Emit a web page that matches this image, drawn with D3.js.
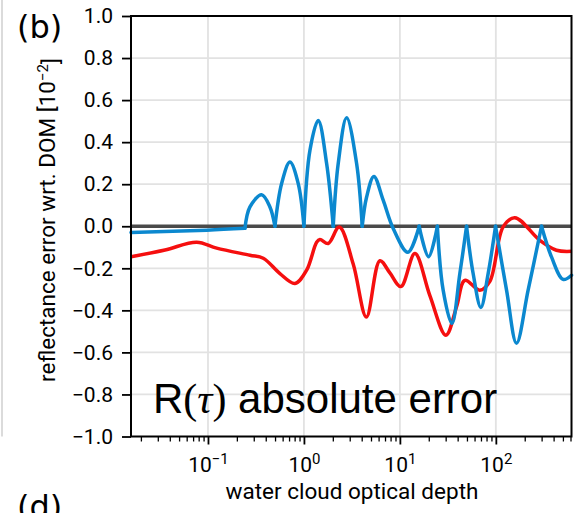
<!DOCTYPE html>
<html lang="en">
  <head>
    <meta charset="utf-8">
    <title>R(tau) absolute error</title>
    <script src="https://d3js.org/d3.v7.min.js"></script>
    <style>
      body { margin: 0; background: #fff; }
      .lab { font-family: "Roboto", sans-serif; }
    </style>
  </head>
  <body>
    <script type="text/javascript">

      var w = 577;
      var h = 513;
      var margin = {top: 16, right: 5, bottom: 76, left: 131};

      // water cloud optical depth (x) and error values
      var redX = [0.01577, 0.03565, 0.0762, 0.1232, 0.2738, 0.3767, 0.5623, 0.8058, 1.067, 1.356,
                  1.468, 1.791, 2.332, 3.263, 4.478, 6.190, 7.867, 10.24, 14.33, 20.54,
                  30.15, 38.96, 47.53, 68.13, 86.60, 119.1, 157.7, 287.3, 428.6, 614.5];
      var redY = [-0.145, -0.113, -0.076, -0.104, -0.138, -0.152, -0.225, -0.272, -0.209, -0.076,
                  -0.063, -0.082, -0.004, -0.180, -0.432, -0.164, -0.222, -0.287, -0.130, -0.330,
                  -0.518, -0.383, -0.257, -0.304, -0.262, -0.003, 0.041, -0.067, -0.114, -0.119];

      var blueX = [0.01577, 0.0969, 0.2428, 0.2738, 0.3625, 0.4423, 0.4987, 0.5856, 0.7148, 0.872,
                   1.0, 1.155, 1.409, 1.724, 2.020, 2.277, 2.785, 3.540, 4.049, 4.500,
                   5.360, 6.699, 8.517, 12.12, 15.89, 19.91, 24.58, 28.25, 34.82, 42.17,
                   49.53, 58.00, 69.80, 83.14, 99.28, 129.3, 164.3, 217.0, 299.3, 380.2,
                   502.3, 614.5];
      var blueY = [-0.030, -0.019, -0.010, 0.092, 0.150, 0.092, 0.0, 0.203, 0.305, 0.203,
                   0.0, 0.361, 0.503, 0.298, 0.0, 0.298, 0.516, 0.298, 0.0, 0.139,
                   0.237, 0.124, -0.011, -0.124, 0.0, -0.145, 0.0, -0.304, -0.462, -0.225,
                   0.0, -0.225, -0.386, -0.225, 0.0, -0.304, -0.556, -0.304, 0.0, -0.146,
                   -0.253, -0.233];
      // x positions where the blue curve has a sharp corner
      var blueCusps = [0.2428, 0.4987, 1.0, 2.020, 4.049, 15.89, 24.58, 49.53, 99.28, 299.3];

      var xMajor = [0.1, 1, 10, 100];
      var xMajorExp = ["\u22121", "0", "1", "2"];
      var yTicks = [-1.0, -0.8, -0.6, -0.4, -0.2, 0.0, 0.2, 0.4, 0.6, 0.8, 1.0];
      var yGrid = [-0.8, -0.6, -0.4, -0.2, 0.2, 0.4, 0.6, 0.8];

      var svg = d3.select("body")
                  .append("svg")
                  .attr("width", w)
                  .attr("height", h);

      var x_scale = d3.scaleLog()
                      .domain([0.01577, 614.5])
                      .range([margin.left, w - margin.right - 0.5]);

      var y_scale = d3.scaleLinear()
                      .domain([-1, 1])
                      .range([h - margin.bottom - 0.5, margin.top]);

      var x0 = x_scale.range()[0], x1 = x_scale.range()[1];
      var y0 = y_scale.range()[1], y1 = y_scale.range()[0];

      // neighbouring panel edge
      svg.append("line")
         .attr("x1", 2).attr("x2", 2).attr("y1", 0).attr("y2", y1)
         .attr("stroke", "#cfcfcf").attr("stroke-width", 1.5);

      // grid
      svg.selectAll("hgrid")
         .data(yGrid)
         .enter()
         .append("line")
         .attr("x1", x0).attr("x2", x1)
         .attr("y1", d => y_scale(d)).attr("y2", d => y_scale(d))
         .attr("stroke", "#e2e2e2").attr("stroke-width", 1.8);

      svg.selectAll("vgrid")
         .data(xMajor)
         .enter()
         .append("line")
         .attr("x1", d => x_scale(d)).attr("x2", d => x_scale(d))
         .attr("y1", y0).attr("y2", y1)
         .attr("stroke", "#e2e2e2").attr("stroke-width", 1.8);

      // zero line
      svg.append("line")
         .attr("x1", x0).attr("x2", x1)
         .attr("y1", y_scale(0)).attr("y2", y_scale(0))
         .attr("stroke", "#4a4a4a").attr("stroke-width", 3.5);

      var line = d3.line()
                   .x(d => x_scale(d[0]))
                   .y(d => y_scale(d[1]))
                   .curve(d3.curveCatmullRom.alpha(0.5));

      var redPts = redX.map((v, i) => [v, redY[i]]);
      svg.append("path")
         .attr("d", line(redPts))
         .attr("fill", "none")
         .attr("stroke", "#f50f0f")
         .attr("stroke-width", 3.5)
         .attr("stroke-linejoin", "round");

      // split blue curve at cusps so each lobe is smoothed on its own
      var bluePts = blueX.map((v, i) => [v, blueY[i]]);
      var segs = [[]];
      bluePts.forEach(function(p) {
        segs[segs.length - 1].push(p);
        if (blueCusps.indexOf(p[0]) >= 0) segs.push([p]);
      });
      svg.selectAll("blueSeg")
         .data(segs.filter(s => s.length > 1))
         .enter()
         .append("path")
         .attr("d", d => line(d))
         .attr("fill", "none")
         .attr("stroke", "#0b88cf")
         .attr("stroke-width", 3.5)
         .attr("stroke-linecap", "round")
         .attr("stroke-linejoin", "round");

      // frame
      svg.append("rect")
         .attr("x", x0).attr("y", y0)
         .attr("width", x1 - x0).attr("height", y1 - y0)
         .attr("fill", "none")
         .attr("stroke", "#000").attr("stroke-width", 2);

      // y axis
      var y_axis = d3.axisLeft()
                     .scale(y_scale)
                     .tickValues(yTicks)
                     .tickSize(9)
                     .tickPadding(9)
                     .tickFormat(d3.format(".1f"));

      var gy = svg.append("g")
                  .attr("transform", "translate(" + x0 + ",0)")
                  .call(y_axis);
      gy.select(".domain").remove();
      gy.selectAll("line").attr("stroke-width", 1.8);
      gy.selectAll("text")
        .attr("class", "lab").attr("font-size", 21).attr("fill", "#000");

      // x axis, major
      var x_axis = d3.axisBottom()
                     .scale(x_scale)
                     .tickValues(xMajor)
                     .tickSize(8)
                     .tickPadding(13)
                     .tickFormat(() => "10");

      var gx = svg.append("g")
                  .attr("transform", "translate(0," + y1 + ")")
                  .call(x_axis);
      gx.select(".domain").remove();
      gx.selectAll("line").attr("stroke-width", 1.8);
      gx.selectAll("text")
        .attr("class", "lab").attr("font-size", 21).attr("fill", "#000")
        .append("tspan")
        .attr("dy", "-0.55em")
        .attr("font-size", 15)
        .text((d, i) => xMajorExp[i]);

      // x axis, minor
      var xMinor = [];
      [0.01, 0.1, 1, 10, 100].forEach(function(dec) {
        for (var k = 2; k <= 9; k++) {
          var v = dec * k;
          if (v > x_scale.domain()[0] && v < x_scale.domain()[1]) xMinor.push(v);
        }
      });
      var gm = svg.append("g")
                  .attr("transform", "translate(0," + y1 + ")")
                  .call(d3.axisBottom(x_scale).tickValues(xMinor).tickSize(5).tickFormat(""));
      gm.select(".domain").remove();
      gm.selectAll("line").attr("stroke-width", 1.3);

      // labels
      svg.append("text")
         .attr("class", "lab")
         .attr("x", 352).attr("y", 499)
         .attr("text-anchor", "middle")
         .attr("font-size", 22.5)
         .text("water cloud optical depth");

      var yl = svg.append("text")
                  .attr("class", "lab")
                  .attr("transform", "translate(55,220) rotate(-90)")
                  .attr("text-anchor", "middle")
                  .attr("font-size", 22.5)
                  .text("reflectance error wrt. DOM [10");
      yl.append("tspan").attr("dy", "-0.5em").attr("font-size", 15).text("\u22122");
      yl.append("tspan").attr("dy", "0.5em").text("]");

      svg.append("text")
         .attr("x", 17).attr("y", 38)
         .attr("font-family", "DejaVu Sans, sans-serif")
         .attr("font-size", 32)
         .text("(b)");

      svg.append("text")
         .attr("x", 17).attr("y", 518)
         .attr("font-family", "DejaVu Sans, sans-serif")
         .attr("font-size", 32)
         .text("(d)");

      var t = svg.append("text")
                 .attr("x", 153).attr("y", 413)
                 .attr("font-family", "Liberation Sans, Arial, sans-serif")
                 .attr("font-size", 42);
      t.append("tspan").text("R");
      t.append("tspan").attr("font-family", "Liberation Serif, serif").text("(");
      t.append("tspan").attr("font-family", "Liberation Serif, serif").attr("font-style", "italic").text("\u03c4");
      t.append("tspan").attr("font-family", "Liberation Serif, serif").text(")");
      t.append("tspan").text(" absolute error");

    </script>
  </body>
</html>
